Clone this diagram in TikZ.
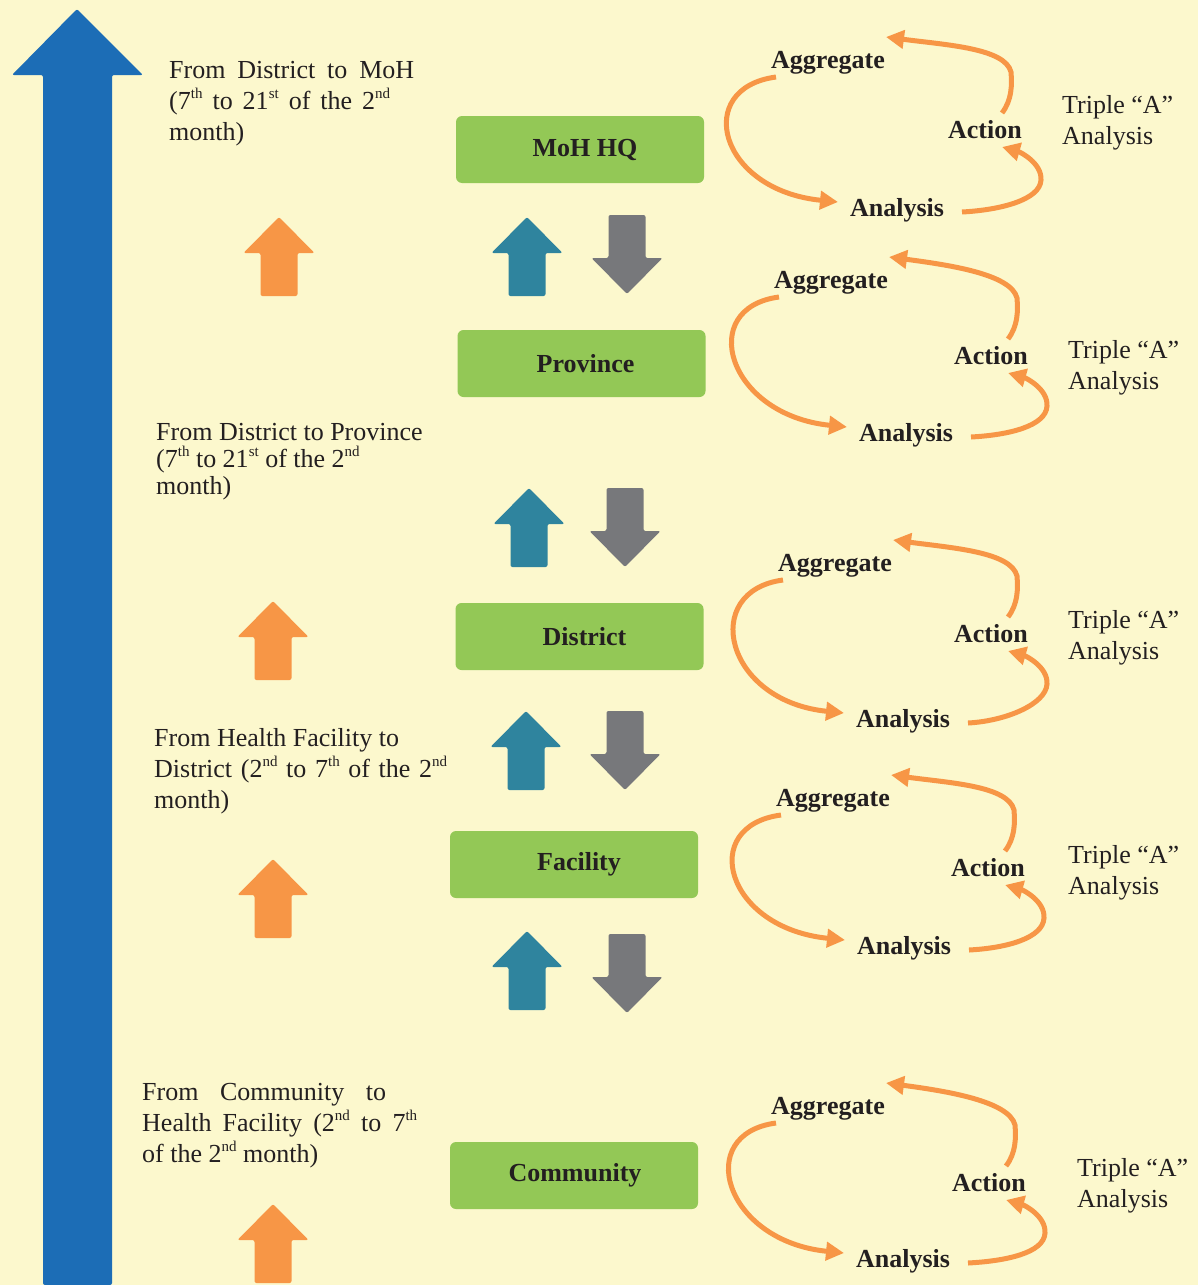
\documentclass[tikz,border=0pt]{standalone}
\usepackage{fontspec}
\setmainfont{Liberation Serif}
\usetikzlibrary{arrows.meta,calc}
\definecolor{bgc}{HTML}{FCF8CD}
\definecolor{bluec}{HTML}{1C6DB6}
\definecolor{orangec}{HTML}{F79646}
\definecolor{tealc}{HTML}{2F849E}
\definecolor{grayc}{HTML}{77787B}
\definecolor{greenc}{HTML}{93C856}
\definecolor{txtc}{HTML}{231F20}
\newcommand{\supx}[1]{\raisebox{0.42em}{\fontsize{15}{15}\selectfont #1}}
\tikzset{
  fatarrow/.pic={\fill[rounded corners=2pt] (-18.5,0) -- (-18.5,-43) -- (-35.5,-43) -- (0,-79) -- (35.5,-43) -- (18.5,-43) -- (18.5,0) -- cycle;},
  levelbox/.style={fill=greenc, rounded corners=6pt, minimum width=248pt, minimum height=67pt, inner sep=0pt, text=txtc, font=\fontsize{26}{31}\selectfont\bfseries},
  lab/.style={font=\fontsize{26}{31}\selectfont\bfseries, text=txtc, inner sep=0pt},
  trip/.style={font=\fontsize{26}{31}\selectfont, align=left, anchor=west, inner sep=0pt, text=txtc},
  sidetext/.style={font=\fontsize{26}{31}\selectfont, align=left, anchor=north west, inner sep=0pt, text=txtc},
  cyclearrow/.style={draw=orangec, line width=5pt, -{Triangle[length=18pt,width=18pt]}}
}
\newcommand{\trioloop}[5]{%
  \node[lab] (agg#1) at (#2) {Aggregate};
  \node[lab] (act#1) at (#3) {Action};
  \node[lab] (ana#1) at (#4) {Analysis};
  \node[trip] (tri#1) at (#5) {Triple “A”\\Analysis};
  \draw[cyclearrow] ($(agg#1)+(-52,14)$) .. controls ($(agg#1)+(-135,25)$) and ($(ana#1)+(-179,-20)$) .. ($(ana#1)+(-59,-8)$);
  \draw[cyclearrow] ($(ana#1)+(65,2)$) .. controls ($(ana#1)+(103,0)$) and ($(act#1)+(55,70)$) .. ($(act#1)+(56,50)$) .. controls ($(act#1)+(57,33)$) and ($(act#1)+(35,22)$) .. ($(act#1)+(17,17)$);
  \draw[cyclearrow] ($(act#1)+(17,-17)$) .. controls ($(act#1)+(27,-30)$) and ($(act#1)+(27,-45)$) .. ($(act#1)+(26,-58)$) .. controls ($(act#1)+(20,-82)$) and ($(agg#1)+(118,-18)$) .. ($(agg#1)+(58,-26)$);
}
\begin{document}
\begin{tikzpicture}[x=1pt,y=-1pt]
\fill[bgc] (0,0) rectangle (1198,1285);
\useasboundingbox (0,0) rectangle (1198,1285);
% big blue arrow
\fill[bluec, rounded corners=2pt] (43,1285) -- (43,75) -- (12,75) -- (77,9) -- (143,75) -- (112,75) -- (112,1285) -- cycle;
% side texts
\node[sidetext] (t1) at (169,61) {\makebox[245pt][s]{From District to MoH}\\\makebox[221pt][s]{(7\supx{th} to 21\supx{st} of the 2\supx{nd}}\\month)};
\node[sidetext, font=\fontsize{26}{27}\selectfont] (t2) at (156,423) {From District to Province\\(7\supx{th} to 21\supx{st} of the 2\supx{nd}\\month)};
\node[sidetext] (t3) at (154,728) {From Health Facility to\\\makebox[293pt][s]{District (2\supx{nd} to 7\supx{th} of the 2\supx{nd}}\\month)};
\node[sidetext] (t4) at (142,1083) {\makebox[244pt][s]{From Community to}\\\makebox[275pt][s]{Health Facility (2\supx{nd} to 7\supx{th}}\\of the 2\supx{nd} month)};
% orange arrows
\pic[fill=orangec] at (279,296) {fatarrow};
\pic[fill=orangec] at (273,680) {fatarrow};
\pic[fill=orangec] at (273,938) {fatarrow};
\pic[fill=orangec] at (273,1283) {fatarrow};
% teal up arrows
\pic[fill=tealc] at (527,296) {fatarrow};
\pic[fill=tealc] at (529,567) {fatarrow};
\pic[fill=tealc] at (526,790) {fatarrow};
\pic[fill=tealc] at (527,1010) {fatarrow};
% gray down arrows
\pic[fill=grayc, rotate=180] at (627,215) {fatarrow};
\pic[fill=grayc, rotate=180] at (625,488) {fatarrow};
\pic[fill=grayc, rotate=180] at (625,711) {fatarrow};
\pic[fill=grayc, rotate=180] at (627,934) {fatarrow};
% level boxes
\node[levelbox] (moh) at (580,149.5) {\hspace*{10pt}\raisebox{-3pt}{MoH HQ}};
\node[levelbox] (prov) at (581.5,363.5) {\hspace*{8pt}\raisebox{-2pt}{Province}};
\node[levelbox] (dist) at (579.5,636.5) {\hspace*{10pt}\raisebox{-3pt}{District}};
\node[levelbox] (fac) at (574,864.5) {\hspace*{10pt}\raisebox{-3pt}{Facility}};
\node[levelbox] (comm) at (574,1175.5) {\hspace*{2pt}\raisebox{-2pt}{Community}};
% cycles
\trioloop{1}{828,63}{985,130}{897,210}{1062,123}
\trioloop{2}{831,283}{991,356}{906,435}{1068,368}
\trioloop{3}{835,566}{991,634}{903,721}{1068,638}
\trioloop{4}{833,801}{988,868}{904,948}{1068,873}
\trioloop{5}{828,1109}{989,1183}{903,1261}{1077,1186}
\end{tikzpicture}
\end{document}
